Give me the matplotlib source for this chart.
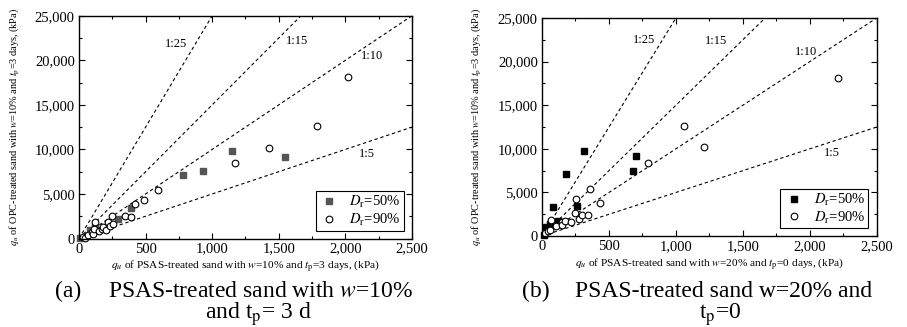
import numpy as np
import matplotlib
matplotlib.use('Agg')
import matplotlib.pyplot as plt
from matplotlib.ticker import MultipleLocator, FuncFormatter

plt.rcParams['font.family'] = ['Liberation Serif', 'DejaVu Serif']
plt.rcParams['mathtext.fontset'] = 'stix'

# ratio lines (OPC : PSAS)
ratios = [5, 10, 15, 25]
ratio_labels = ['1:5', '1:10', '1:15', '1:25']

# panel (a): PSAS w=10%, tp=3 d
a_dr50_x = [5, 85, 120, 290, 390, 780, 930, 1150, 1550]
a_dr50_y = [50, 900, 1300, 2200, 3400, 7100, 7600, 9800, 9200]
a_dr90_x = [32, 45, 70, 95, 107, 112, 120, 150, 170, 182, 200, 215, 232, 245,
            257, 345, 390, 420, 485, 590, 1175, 1430, 1790, 2020]
a_dr90_y = [225, 110, 340, 720, 530, 1090, 1840, 790, 1050, 1280, 900, 1840, 1460, 2550,
            1600, 2500, 2400, 3850, 4350, 5400, 8500, 10200, 12600, 18100]
a_label_pos = [(2160, 9480), (2200, 20480), (1640, 22150), (730, 21800)]

# panel (b): PSAS w=20%, tp=0
b_dr50_x = [15, 32, 60, 82, 120, 180, 265, 310, 680, 700]
b_dr50_y = [115, 1000, 1400, 3300, 1700, 7100, 3450, 9750, 7500, 9200]
b_dr90_x = [20, 45, 57, 70, 107, 147, 149, 174, 219, 245, 256, 275, 300, 345,
            356, 430, 790, 1060, 1210, 2210]
b_dr90_y = [310, 610, 690, 1830, 1150, 1640, 1260, 1760, 1640, 2600, 4300, 1950, 2400, 2400,
            5350, 3850, 8400, 12600, 10200, 18100]
b_label_pos = [(2163, 9520), (1970, 21140), (1298, 22400), (761, 22480)]

ylabel = r'$q_u$ of OPC-treated sand with $w$=10% and $t_\mathrm{p}$=3 days, (kPa)'


def draw_panel(ax, dr50_x, dr50_y, dr90_x, dr90_y, label_pos, xlabel, sq_color):
    xs = np.array([0, 2500])
    for r, lab, pos in zip(ratios, ratio_labels, label_pos):
        ax.plot(xs, xs * r, color='black', lw=0.8, linestyle=(0, (3, 2.5)))
        ax.text(pos[0], pos[1], lab, fontsize=9, ha='center', va='center')
    ax.plot(dr50_x, dr50_y, 's', color=sq_color, ms=4.2, mec=sq_color,
            label=r'$D_\mathrm{r}$=50%', clip_on=False)
    ax.plot(dr90_x, dr90_y, 'o', mfc='white', mec='black', mew=0.8, ms=4.8,
            label=r'$D_\mathrm{r}$=90%', clip_on=False)
    ax.set_xlim(0, 2500)
    ax.set_ylim(0, 25000)
    ax.xaxis.set_major_locator(MultipleLocator(500))
    ax.xaxis.set_minor_locator(MultipleLocator(250))
    ax.yaxis.set_major_locator(MultipleLocator(5000))
    ax.yaxis.set_minor_locator(MultipleLocator(2500))
    fmt = FuncFormatter(lambda v, p: f'{v:,.0f}')
    ax.xaxis.set_major_formatter(fmt)
    ax.yaxis.set_major_formatter(fmt)
    ax.tick_params(which='both', direction='in', top=True, right=True,
                   labelsize=10.5, width=0.8, pad=3)
    ax.tick_params(which='major', length=4)
    ax.tick_params(which='minor', length=2.5)
    for s in ax.spines.values():
        s.set_linewidth(1.0)
    ax.set_xlabel(xlabel, fontsize=8.2, labelpad=2)
    ax.set_ylabel(ylabel, fontsize=7.4)
    ax.yaxis.set_label_coords(-0.175, 0.5)
    leg = ax.legend(loc='lower right', fontsize=10.5, fancybox=False, edgecolor='black',
                    framealpha=1, handletextpad=0.7, borderpad=0.2, labelspacing=0.1,
                    handlelength=1.4, borderaxespad=0, bbox_to_anchor=(0.975, 0.035))
    leg.get_frame().set_linewidth(0.8)


fig = plt.figure(figsize=(9.07, 3.27), dpi=100)
ax1 = fig.add_axes([0.0871, 0.2706, 0.367, 0.681])
ax2 = fig.add_axes([0.5976, 0.278, 0.369, 0.667])

draw_panel(ax1, a_dr50_x, a_dr50_y, a_dr90_x, a_dr90_y, a_label_pos,
           r'$q_u$ of PSAS-treated sand with $w$=10% and $t_\mathrm{p}$=3 days, (kPa)', '#555555')
draw_panel(ax2, b_dr50_x, b_dr50_y, b_dr90_x, b_dr90_y, b_label_pos,
           r'$q_u$ of PSAS-treated sand with $w$=20% and $t_\mathrm{p}$=0 days, (kPa)', 'black')

fig.text(0.061, 0.108, '(a)', fontsize=17, ha='left', va='center')
fig.text(0.455, 0.108, r'PSAS-treated sand with $w$=10%', fontsize=17, ha='right', va='center')
fig.text(0.285, 0.038, r'and t$_\mathrm{p}$= 3 d', fontsize=17, ha='center', va='center')
fig.text(0.575, 0.108, '(b)', fontsize=17, ha='left', va='center')
fig.text(0.961, 0.108, 'PSAS-treated sand w=20% and', fontsize=17, ha='right', va='center')
fig.text(0.794, 0.038, r't$_\mathrm{p}$=0', fontsize=17, ha='center', va='center')

fig.savefig('out.png', dpi=100)
